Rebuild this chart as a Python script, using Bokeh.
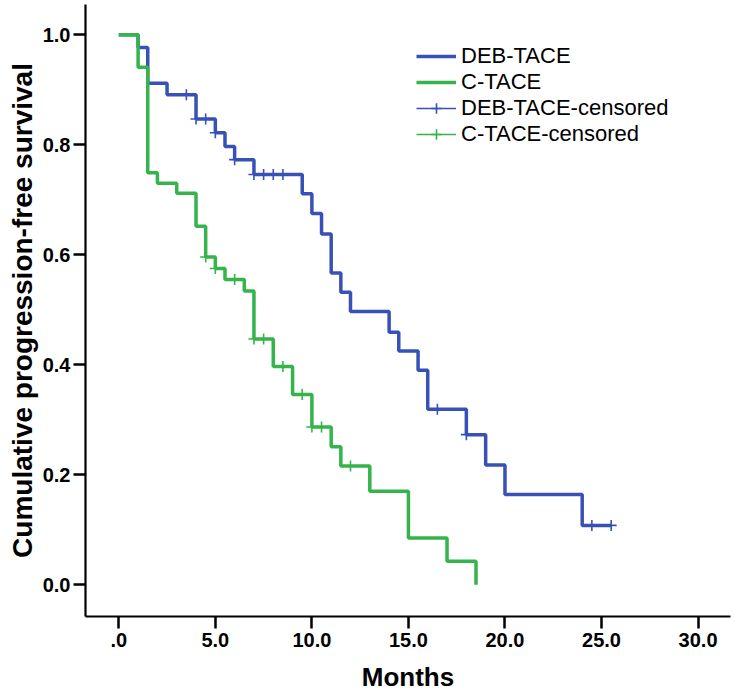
from bokeh.plotting import figure
from bokeh.models import Range1d, FixedTicker, Legend, LegendItem
from bokeh.embed import file_html
from bokeh.resources import INLINE

# ---- data ----
deb_times = [0, 1.0, 1.5, 2.5, 4.0, 5.0, 5.5, 6.0, 7.0, 9.5, 10.0, 10.5, 11.0, 11.5, 12.0,
             14.0, 14.5, 15.5, 16.0, 18.0, 19.0, 20.0, 24.0, 25.5]
deb_surv = [1.0, 0.977, 0.912, 0.891, 0.847, 0.822, 0.797, 0.773, 0.746, 0.711, 0.675, 0.638,
            0.567, 0.532, 0.497, 0.459, 0.425, 0.390, 0.319, 0.273, 0.218, 0.164, 0.108, 0.108]
deb_cens_t = [3.5, 4.0, 4.5, 5.0, 6.0, 7.0, 7.5, 8.0, 8.5, 16.5, 18.0, 24.5, 25.5]
deb_cens_s = [0.891, 0.847, 0.847, 0.822, 0.773, 0.746, 0.746, 0.746, 0.746, 0.319, 0.273, 0.108, 0.108]

c_times = [0, 1.0, 1.5, 2.0, 3.0, 4.0, 4.5, 5.0, 5.5, 6.5, 7.0, 8.0, 9.0, 10.0, 11.0, 11.5,
           13.0, 15.0, 17.0, 18.5]
c_surv = [1.0, 0.941, 0.749, 0.730, 0.712, 0.652, 0.596, 0.575, 0.555, 0.534, 0.447, 0.397,
          0.346, 0.287, 0.251, 0.216, 0.170, 0.085, 0.043, 0.0]
c_cens_t = [4.5, 5.0, 6.0, 7.0, 7.5, 8.5, 9.5, 10.0, 10.5, 12.0]
c_cens_s = [0.596, 0.575, 0.555, 0.447, 0.447, 0.397, 0.346, 0.287, 0.287, 0.216]

x_ticks = [0, 5, 10, 15, 20, 25, 30]
x_tick_labels = [".0", "5.0", "10.0", "15.0", "20.0", "25.0", "30.0"]
y_ticks = [0.0, 0.2, 0.4, 0.6, 0.8, 1.0]
y_tick_labels = ["0.0", "0.2", "0.4", "0.6", "0.8", "1.0"]

BLUE = "#3851B6"
GREEN = "#34B44A"
FONT = "Liberation Sans"

p = figure(width=735, height=697, output_backend="svg", toolbar_location=None,
           x_range=Range1d(-1.724, 31.68), y_range=Range1d(-0.0576, 1.0551),
           min_border_left=85, min_border_right=5, min_border_top=4, min_border_bottom=81)
p.outline_line_color = None
p.xgrid.grid_line_color = None
p.ygrid.grid_line_color = None

p.xaxis.ticker = FixedTicker(ticks=x_ticks)
p.xaxis.major_label_overrides = dict(zip(x_ticks, x_tick_labels))
p.yaxis.ticker = FixedTicker(ticks=y_ticks)
p.yaxis.major_label_overrides = dict(zip(y_ticks, y_tick_labels))

for ax in (p.xaxis[0], p.yaxis[0]):
    ax.axis_line_width = 2.2
    ax.axis_line_color = "black"
    ax.major_tick_in = 0
    ax.major_tick_out = 12
    ax.major_tick_line_width = 2.5
    ax.minor_tick_line_color = None
    ax.major_label_text_font = FONT
    ax.major_label_text_font_style = "bold"
    ax.major_label_text_font_size = "20px"
    ax.major_label_text_color = "black"
    ax.axis_label_text_font = FONT
    ax.axis_label_text_font_style = "bold"
    ax.axis_label_text_color = "black"

p.xaxis.axis_label = "Months"
p.xaxis.axis_label_text_font_size = "26px"
p.xaxis.major_label_standoff = 4
p.xaxis.axis_label_standoff = 12
p.yaxis.axis_label = "Cumulative progression-free survival"
p.yaxis.axis_label_text_font_size = "28px"
p.yaxis.major_label_standoff = 3
p.yaxis.axis_label_standoff = 2

deb_line = p.step(deb_times, deb_surv, mode="after", line_width=3.5, line_color=BLUE)
c_line = p.step(c_times, c_surv, mode="after", line_width=3.5, line_color=GREEN)
deb_c = p.scatter(deb_cens_t, deb_cens_s, marker="cross", size=11, line_width=1.6, line_color=BLUE)
c_c = p.scatter(c_cens_t, c_cens_s, marker="cross", size=11, line_width=1.6, line_color=GREEN)
# legend-only thin lines (no drawable data)
deb_leg = p.line([float("nan")], [float("nan")], line_width=1.6, line_color=BLUE)
c_leg = p.line([float("nan")], [float("nan")], line_width=1.6, line_color=GREEN)

legend = Legend(items=[
    LegendItem(label="DEB-TACE", renderers=[deb_line]),
    LegendItem(label="C-TACE", renderers=[c_line]),
    LegendItem(label="DEB-TACE-censored", renderers=[deb_leg, deb_c]),
    LegendItem(label="C-TACE-censored", renderers=[c_leg, c_c]),
], location=(331, 469), glyph_width=40, glyph_height=26, label_height=26, spacing=0,
    padding=0, margin=0, label_standoff=5, border_line_color=None, background_fill_alpha=0,
    label_text_font=FONT, label_text_font_size="22px", label_text_color="black")
p.add_layout(legend, "center")

open("out.html", "w").write(file_html(p, INLINE))
